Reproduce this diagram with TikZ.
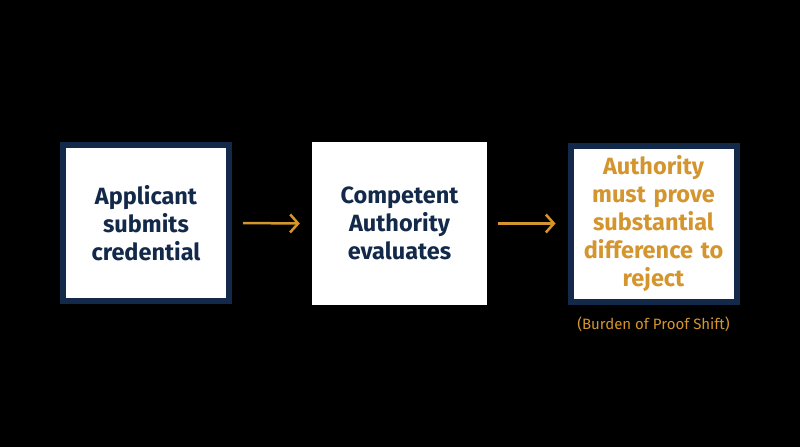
\documentclass[tikz,border=0pt]{standalone}
\usepackage{fontspec}
\setmainfont{Fira Sans}
\usetikzlibrary{positioning,arrows.meta}
\definecolor{navy}{HTML}{12294A}
\definecolor{gold}{HTML}{D4952E}
\tikzset{
  box/.style={fill=white, minimum width=166pt, minimum height=156pt, inner sep=0pt,
    align=center, text width=164pt, font=\fontsize{23.5}{28}\selectfont\bfseries},
  framed/.style={box, draw=navy, line width=6pt},
  flow/.style={-{Straight Barb[length=8pt,width=18pt,line width=2.5pt]}, draw=gold, line width=2.5pt}
}
\begin{document}
\begin{tikzpicture}[x=1pt,y=-1pt]
\useasboundingbox[fill=black] (0,0) rectangle (800,447);
\node[framed, text=navy] (submit) at (146,223) {Applicant\\submits\\credential};
\node[box, text=navy, minimum width=175pt, minimum height=163pt] (eval) at (399.5,223.5) {Competent\\Authority\\evaluates};
\node[framed, text=gold] (prove) at (653.5,223.5) {Authority\\must prove\\substantial\\difference to\\reject};
\node[text=gold, font=\fontsize{15}{17}\selectfont, below=9pt of prove] (note) {(Burden of Proof Shift)};
\draw[flow] ([xshift=11pt]submit.east) -- ([xshift=-12pt]eval.west);
\draw[flow] ([xshift=11pt]eval.east) -- ([xshift=-12pt]prove.west);
\end{tikzpicture}
\end{document}
